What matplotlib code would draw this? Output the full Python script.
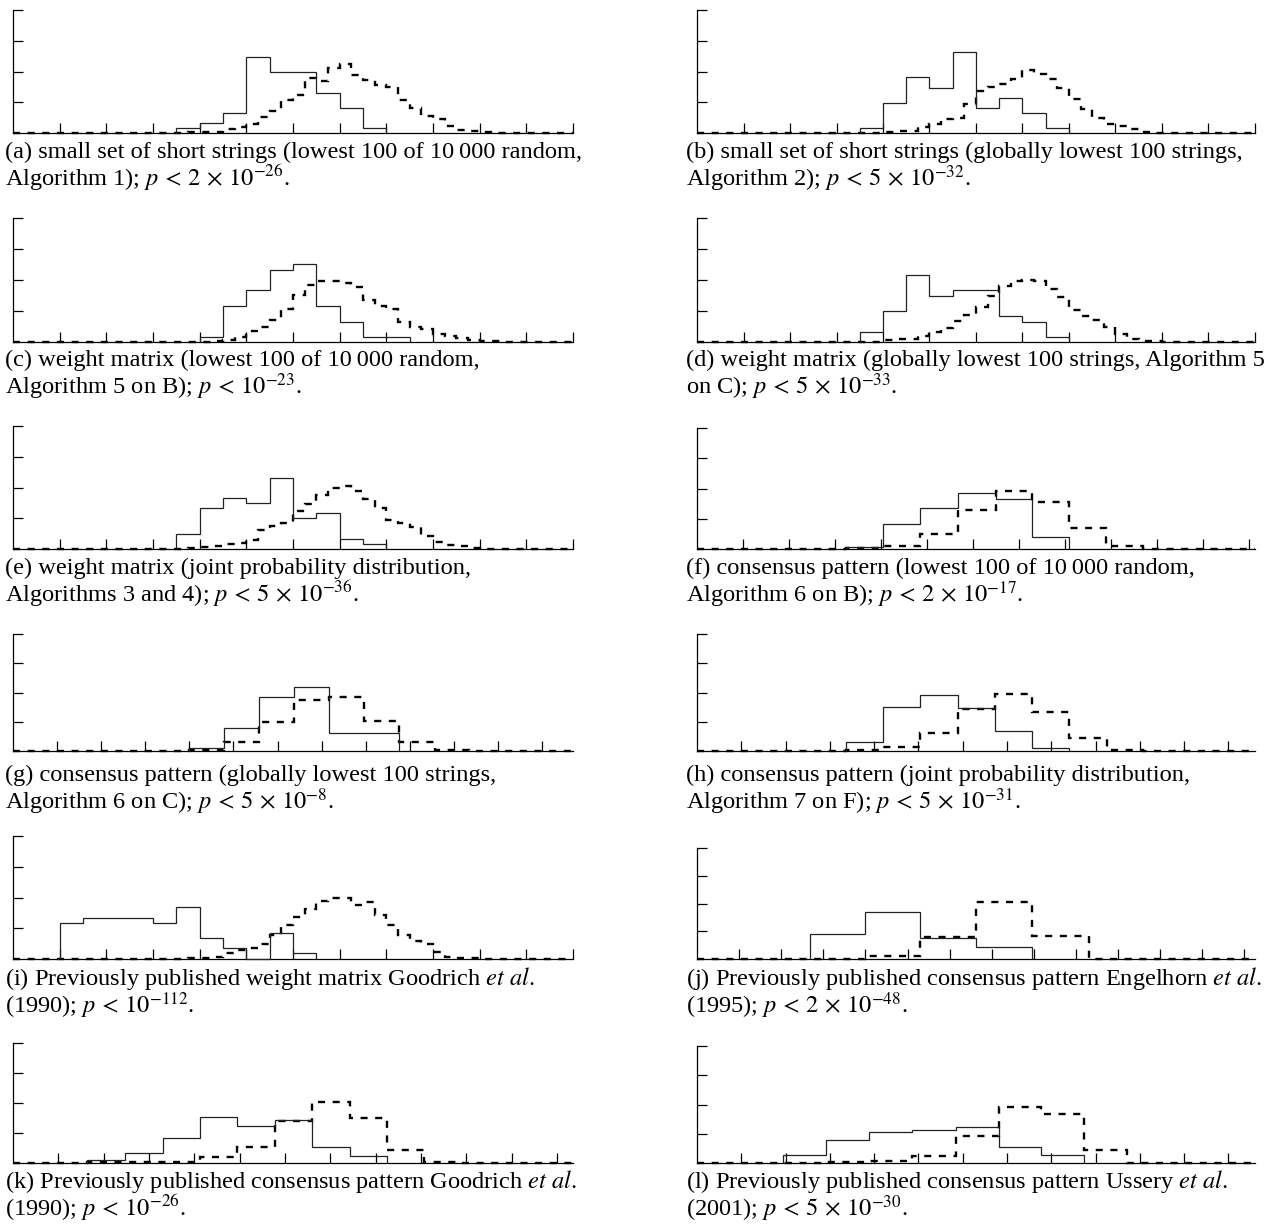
import numpy as np
import matplotlib

matplotlib.use("Agg")
import matplotlib.pyplot as plt

plt.rcParams["font.family"] = ["Liberation Serif", "DejaVu Serif"]
plt.rcParams["mathtext.fontset"] = "stix"

# x is in tick intervals, y in tick intervals (0..4)
SOLID_W = 0.5
DASH_W = 0.25

a_solid_x0 = 3.5
a_solid = [0.16, 0.32, 0.65, 2.46, 1.98, 1.98, 1.30, 0.81, 0.16]
a_dash_x0 = 3.75
a_dash = [0.02, 0.02, 0.03, 0.13, 0.2, 0.3, 0.52, 0.72, 1.08, 1.24, 1.8, 1.68, 2.1,
          2.24, 1.89, 1.73, 1.57, 1.5, 1.08, 0.81, 0.54, 0.45, 0.22, 0.1, 0.05, 0.02]

b_solid_x0 = 3.5
b_solid = [0.16, 0.97, 1.82, 1.47, 2.65, 0.81, 1.14, 0.65, 0.15]
b_dash_x0 = 4.0
b_dash = [0.02, 0.08, 0.08, 0.2, 0.3, 0.45, 0.5, 0.95, 1.35, 1.5, 1.6, 1.75, 2.05,
          1.92, 1.75, 1.45, 1.1, 0.78, 0.5, 0.3, 0.22, 0.12, 0.04, 0.01]

c_solid_x0 = 4.0
c_solid = [0.16, 1.16, 1.68, 2.32, 2.51, 1.16, 0.65, 0.16, 0.16]
c_dash_x0 = 4.25
c_dash = [0.03, 0.05, 0.16, 0.36, 0.5, 0.72, 1.05, 1.51, 1.84, 1.97, 1.97, 1.89, 1.76,
          1.37, 1.16, 1.08, 0.65, 0.5, 0.43, 0.25, 0.2, 0.14, 0.05, 0.03, 0.02]

d_solid_x0 = 3.5
d_solid = [0.32, 1.0, 2.16, 1.49, 1.68, 1.68, 0.83, 0.65, 0.16]
d_dash_x0 = 4.0
d_dash = [0.05, 0.09, 0.1, 0.18, 0.32, 0.45, 0.68, 0.86, 1.14, 1.48, 1.8, 1.97, 2.0,
          1.97, 1.7, 1.44, 1.03, 0.85, 0.72, 0.5, 0.25, 0.11, 0.04, 0.02]

e_solid_x0 = 3.5
e_solid = [0.49, 1.33, 1.65, 1.49, 2.32, 1.0, 1.17, 0.32, 0.16]
e_dash_x0 = 3.75
e_dash = [0.03, 0.05, 0.09, 0.17, 0.2, 0.3, 0.63, 0.75, 0.84, 1.22, 1.46, 1.76, 1.98,
          2.05, 1.87, 1.62, 1.33, 0.95, 0.85, 0.71, 0.41, 0.22, 0.12, 0.09, 0.03]

i_solid_x0 = 1.0
i_solid = [1.18, 1.34, 1.34, 1.34, 1.18, 1.68, 0.67, 0.35, 0.0, 0.83, 0.18]
i_dash_x0 = 3.5
i_dash = [0.01, 0.02, 0.04, 0.06, 0.2, 0.29, 0.35, 0.5, 0.78, 1.1, 1.37, 1.64, 1.88,
          1.97, 1.97, 1.77, 1.84, 1.43, 1.1, 0.78, 0.6, 0.5, 0.24, 0.08, 0.04, 0.02]

f_solid_edges = [3.25, 4.05, 4.86, 5.68, 6.5, 7.29, 8.09]
f_solid = [0.08, 0.82, 1.34, 1.85, 1.65, 0.41]
f_dash_edges = [3.25, 4.05, 4.86, 5.68, 6.5, 7.29, 8.09, 8.9, 9.7]
f_dash = [0.02, 0.1, 0.49, 1.29, 1.93, 1.57, 0.69, 0.11]

g_solid_edges = [3.99, 4.78, 5.58, 6.37, 7.17, 7.97, 8.76]
g_solid = [0.09, 0.8, 1.86, 2.19, 0.63, 0.63]
g_dash_edges = [3.99, 4.78, 5.58, 6.37, 7.17, 7.97, 8.76, 9.56, 10.35]
g_dash = [0.05, 0.32, 0.98, 1.75, 1.83, 1.03, 0.3, 0.03]

h_solid_edges = [3.37, 4.2, 5.04, 5.89, 6.72, 7.56, 8.41]
h_solid = [0.3, 1.5, 1.9, 1.46, 0.69, 0.09]
h_dash_edges = [3.37, 4.2, 5.04, 5.89, 6.72, 7.56, 8.41, 9.25, 10.08]
h_dash = [0.02, 0.13, 0.62, 1.43, 1.95, 1.35, 0.43, 0.05]

j_solid_edges = [2.68, 3.98, 5.3, 6.63, 7.96]
j_solid = [0.89, 1.7, 0.74, 0.42]
j_dash_edges = [3.98, 5.3, 6.63, 7.96, 9.3]
j_dash = [0.11, 0.8, 2.04, 0.84]

k_solid_edges = [1.64, 2.48, 3.3, 4.13, 4.94, 5.77, 6.59, 7.43, 8.24]
k_solid = [0.11, 0.33, 0.83, 1.52, 1.22, 1.44, 0.53, 0.22]
k_dash_edges = [1.64, 2.48, 3.3, 4.13, 4.94, 5.77, 6.59, 7.43, 8.24, 9.06, 9.88]
k_dash = [0.02, 0.02, 0.05, 0.2, 0.53, 1.41, 2.03, 1.49, 0.42, 0.03]

l_solid_edges = [1.94, 2.91, 3.89, 4.86, 5.84, 6.81, 7.77, 8.73]
l_solid = [0.26, 0.8, 1.05, 1.14, 1.23, 0.53, 0.26]
l_dash_edges = [2.91, 3.89, 4.86, 5.84, 6.81, 7.77, 8.73, 9.7]
l_dash = [0.02, 0.06, 0.23, 0.91, 1.91, 1.67, 0.45]

x_max = [12, 12, 12, 12, 12, 12.14, 12.7, 12.6, 12, 13.25, 12.35, 12.6]

X = "\\,\\times\\,"
captions = [
    ("(a) small set of short strings (lowest 100 of 10\u2009000 random,",
     "Algorithm 1); $p\\,<\\,2" + X + "10^{-26}$."),
    ("(b) small set of short strings (globally lowest 100 strings,",
     "Algorithm 2); $p\\,<\\,5" + X + "10^{-32}$."),
    ("(c) weight matrix (lowest 100 of 10\u2009000 random,",
     "Algorithm 5 on B); $p\\,<\\,10^{-23}$."),
    ("(d) weight matrix (globally lowest 100 strings, Algorithm 5",
     "on C); $p\\,<\\,5" + X + "10^{-33}$."),
    ("(e) weight matrix (joint probability distribution,",
     "Algorithms 3 and 4); $p\\,<\\,5" + X + "10^{-36}$."),
    ("(f) consensus pattern (lowest 100 of 10\u2009000 random,",
     "Algorithm 6 on B); $p\\,<\\,2" + X + "10^{-17}$."),
    ("(g) consensus pattern (globally lowest 100 strings,",
     "Algorithm 6 on C); $p\\,<\\,5" + X + "10^{-8}$."),
    ("(h) consensus pattern (joint probability distribution,",
     "Algorithm 7 on F); $p\\,<\\,5" + X + "10^{-31}$."),
    ("(i) Previously published weight matrix Goodrich $\\mathit{et\\ al.}$",
     "(1990); $p\\,<\\,10^{-112}$."),
    ("(j) Previously published consensus pattern Engelhorn $\\mathit{et\\ al.}$",
     "(1995); $p\\,<\\,2" + X + "10^{-48}$."),
    ("(k) Previously published consensus pattern Goodrich $\\mathit{et\\ al.}$",
     "(1990); $p\\,<\\,10^{-26}$."),
    ("(l) Previously published consensus pattern Ussery $\\mathit{et\\ al.}$",
     "(2001); $p\\,<\\,5" + X + "10^{-30}$."),
]


def fine(x0, width, values):
    return list(x0 + width * np.arange(len(values) + 1)), values


panels = [
    (fine(a_solid_x0, SOLID_W, a_solid), fine(a_dash_x0, DASH_W, a_dash)),
    (fine(b_solid_x0, SOLID_W, b_solid), fine(b_dash_x0, DASH_W, b_dash)),
    (fine(c_solid_x0, SOLID_W, c_solid), fine(c_dash_x0, DASH_W, c_dash)),
    (fine(d_solid_x0, SOLID_W, d_solid), fine(d_dash_x0, DASH_W, d_dash)),
    (fine(e_solid_x0, SOLID_W, e_solid), fine(e_dash_x0, DASH_W, e_dash)),
    ((f_solid_edges, f_solid), (f_dash_edges, f_dash)),
    ((g_solid_edges, g_solid), (g_dash_edges, g_dash)),
    ((h_solid_edges, h_solid), (h_dash_edges, h_dash)),
    (fine(i_solid_x0, SOLID_W, i_solid), fine(i_dash_x0, DASH_W, i_dash)),
    ((j_solid_edges, j_solid), (j_dash_edges, j_dash)),
    ((k_solid_edges, k_solid), (k_dash_edges, k_dash)),
    ((l_solid_edges, l_solid), (l_dash_edges, l_dash)),
]

# pixel layout: (left, top, right, bottom) of each axes box
W, H = 1271, 1227
col_x = [(13, 573), (697, 1255)]
rows_left = [(10, 133), (218, 342), (426, 549), (634, 751), (836, 959), (1043, 1163)]
rows_right = [(10, 133), (218, 342), (428, 549), (634, 751), (848, 959), (1046, 1163)]
cap_x = [5, 686]
cap_base = [158, 366, 574, 781, 985, 1188]
LINE_GAP = 28

fig = plt.figure(figsize=(W / 100, H / 100), dpi=100)

for n, ((s_edges, s_vals), (d_edges, d_vals)) in enumerate(panels):
    col = n % 2
    row = n // 2
    top, bottom = (rows_left if col == 0 else rows_right)[row]
    left, right = col_x[col]
    ax = fig.add_axes([left / W, 1 - bottom / H, (right - left) / W, (bottom - top) / H])
    xmax = x_max[n]

    d_edges = [0] + list(d_edges) + [xmax]
    d_vals = [0] + list(d_vals) + [0]
    ax.stairs(d_vals, d_edges, color="black", lw=1.7, linestyle=(0, (3, 3.2)),
              baseline=None, clip_on=False, zorder=3)
    ax.stairs(s_vals, s_edges, color="#222222", lw=0.9, baseline=0, clip_on=False, zorder=4)

    ax.set_xlim(0, xmax)
    ax.set_ylim(0, 4)
    ax.set_xticks(np.arange(1, int(np.floor(xmax)) + 1))
    ax.set_yticks([1, 2, 3, 4])
    ax.tick_params(direction="in", length=7.5, width=0.9, labelbottom=False, labelleft=False)
    for side in ("top", "right"):
        ax.spines[side].set_visible(False)
    for side in ("left", "bottom"):
        ax.spines[side].set_linewidth(0.9)

    line1, line2 = captions[n]
    y1 = cap_base[row]
    fig.text(cap_x[col] / W, 1 - y1 / H, line1, fontsize=17.6, ha="left", va="baseline")
    fig.text(cap_x[col] / W, 1 - (y1 + LINE_GAP) / H, line2, fontsize=17.6,
             ha="left", va="baseline")

fig.savefig("out.png", dpi=100)
